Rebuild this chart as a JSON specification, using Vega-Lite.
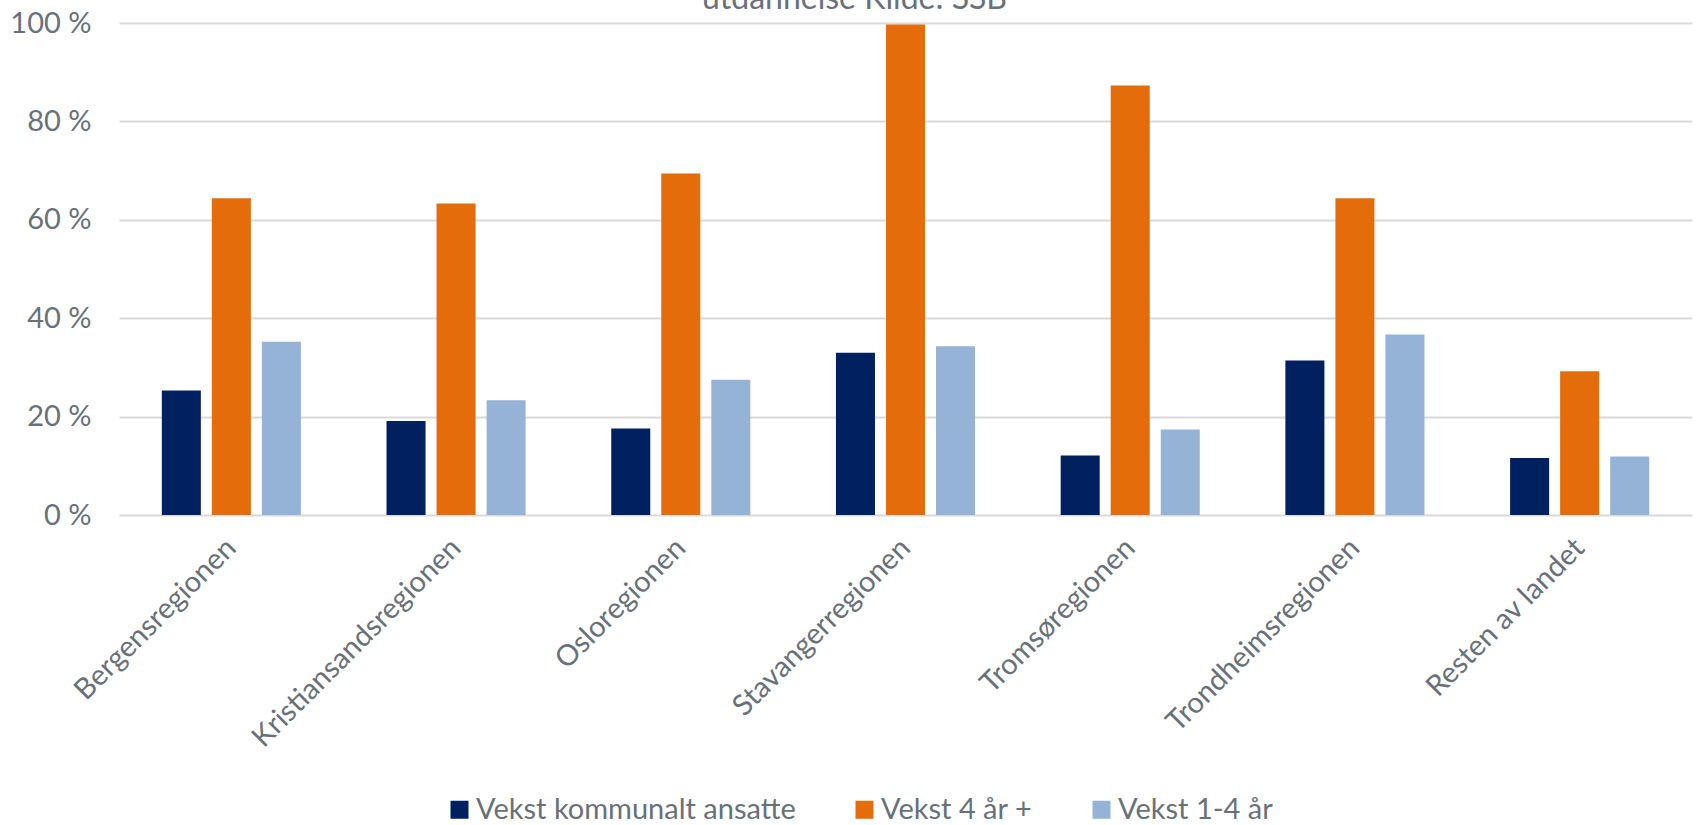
{
  "$schema": "https://vega.github.io/schema/vega-lite/v6.json",
  "width": 1573,
  "height": 492,
  "autosize": {"type": "none"},
  "padding": {"left": 119, "top": 23, "right": 4, "bottom": 310},
  "background": "white",
  "title": {
    "text": "utdannelse Kilde: SSB",
    "font": "Lato",
    "fontSize": 32,
    "fontWeight": "normal",
    "color": "#687179",
    "anchor": "middle",
    "frame": "group",
    "baseline": "alphabetic",
    "offset": -32,
    "dx": -51
  },
  "data": {
    "values": [
      {"region": "Bergensregionen", "serie": "Vekst kommunalt ansatte", "verdi": 25.3},
      {"region": "Bergensregionen", "serie": "Vekst 4 år +", "verdi": 64.4},
      {"region": "Bergensregionen", "serie": "Vekst 1-4 år", "verdi": 35.2},
      {"region": "Kristiansandsregionen", "serie": "Vekst kommunalt ansatte", "verdi": 19.1},
      {"region": "Kristiansandsregionen", "serie": "Vekst 4 år +", "verdi": 63.3},
      {"region": "Kristiansandsregionen", "serie": "Vekst 1-4 år", "verdi": 23.3},
      {"region": "Osloregionen", "serie": "Vekst kommunalt ansatte", "verdi": 17.6},
      {"region": "Osloregionen", "serie": "Vekst 4 år +", "verdi": 69.4},
      {"region": "Osloregionen", "serie": "Vekst 1-4 år", "verdi": 27.5},
      {"region": "Stavangerregionen", "serie": "Vekst kommunalt ansatte", "verdi": 33.0},
      {"region": "Stavangerregionen", "serie": "Vekst 4 år +", "verdi": 99.7},
      {"region": "Stavangerregionen", "serie": "Vekst 1-4 år", "verdi": 34.3},
      {"region": "Tromsøregionen", "serie": "Vekst kommunalt ansatte", "verdi": 12.1},
      {"region": "Tromsøregionen", "serie": "Vekst 4 år +", "verdi": 87.3},
      {"region": "Tromsøregionen", "serie": "Vekst 1-4 år", "verdi": 17.4},
      {"region": "Trondheimsregionen", "serie": "Vekst kommunalt ansatte", "verdi": 31.4},
      {"region": "Trondheimsregionen", "serie": "Vekst 4 år +", "verdi": 64.4},
      {"region": "Trondheimsregionen", "serie": "Vekst 1-4 år", "verdi": 36.7},
      {"region": "Resten av landet", "serie": "Vekst kommunalt ansatte", "verdi": 11.6},
      {"region": "Resten av landet", "serie": "Vekst 4 år +", "verdi": 29.2},
      {"region": "Resten av landet", "serie": "Vekst 1-4 år", "verdi": 11.9}
    ]
  },
  "mark": {"type": "bar"},
  "encoding": {
    "x": {
      "field": "region",
      "type": "nominal",
      "sort": null,
      "scale": {"paddingInner": 0.381, "paddingOuter": 0.1905},
      "axis": {
        "title": null,
        "domain": false,
        "ticks": false,
        "labelAngle": -45,
        "labelAlign": "right",
        "labelBaseline": "middle",
        "labelPadding": 28,
        "labelFont": "Lato",
        "labelFontSize": 29,
        "labelColor": "#687179",
        "labelLimit": 0
      }
    },
    "xOffset": {
      "field": "serie",
      "type": "nominal",
      "sort": ["Vekst kommunalt ansatte", "Vekst 4 år +", "Vekst 1-4 år"],
      "scale": {"paddingInner": 0.22, "paddingOuter": 0}
    },
    "y": {
      "field": "verdi",
      "type": "quantitative",
      "scale": {"domain": [0, 100]},
      "axis": {
        "title": null,
        "values": [0, 20, 40, 60, 80, 100],
        "labelExpr": "datum.value + ' %'",
        "domain": false,
        "ticks": false,
        "grid": true,
        "gridColor": "#d9d9d9",
        "gridWidth": 2,
        "labelPadding": 28,
        "labelFont": "Lato",
        "labelFontSize": 29,
        "labelColor": "#687179"
      }
    },
    "color": {
      "field": "serie",
      "type": "nominal",
      "sort": ["Vekst kommunalt ansatte", "Vekst 4 år +", "Vekst 1-4 år"],
      "scale": {
        "domain": ["Vekst kommunalt ansatte", "Vekst 4 år +", "Vekst 1-4 år"],
        "range": ["#002060", "#e46c0a", "#95b3d7"]
      },
      "legend": {
        "title": null,
        "orient": "none",
        "direction": "horizontal",
        "legendX": 326,
        "legendY": 772,
        "symbolType": "square",
        "symbolSize": 324,
        "symbolStrokeWidth": 0,
        "labelFont": "Lato",
        "labelFontSize": 29,
        "labelColor": "#687179",
        "labelLimit": 0,
        "columnPadding": 54,
        "symbolOffset": 0,
        "labelOffset": 2
      }
    }
  },
  "config": {
    "view": {"stroke": null}
  }
}
